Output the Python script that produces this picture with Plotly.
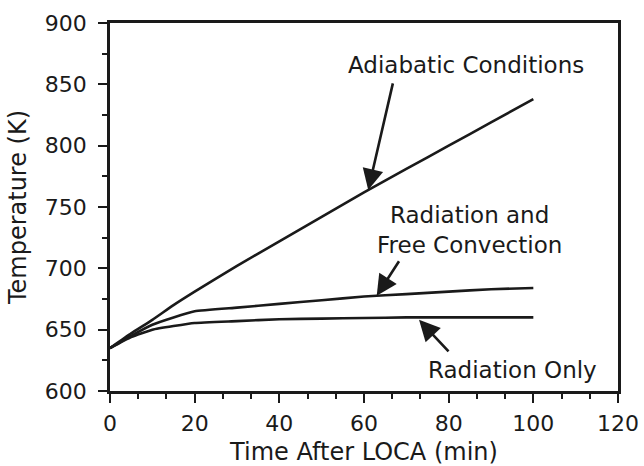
import numpy as np
import plotly.graph_objects as go

# Time after the loss-of-coolant accident (min)
time_min = [0, 5, 10, 15, 20, 30, 40, 50, 60, 70, 80, 90, 100]

# Temperature histories (K)
adiabatic = [635, 647, 658, 670, 681, 702, 722, 742, 762, 781, 800, 819, 838]
radiation_convection = [635, 645, 654, 660, 665, 668, 671, 674, 677, 679, 681, 683, 684]
radiation_only = [635, 644, 650, 653, 655.5, 657, 658.5, 659, 659.5, 660, 660, 660, 660]

x_ticks = [0, 20, 40, 60, 80, 100, 120]
y_ticks = [600, 650, 700, 750, 800, 850, 900]

INK = "#1a1a1a"
FONT = "DejaVu Sans"

fig = go.Figure()
for series in (adiabatic, radiation_convection, radiation_only):
    fig.add_trace(go.Scatter(
        x=time_min, y=series, mode="lines",
        line=dict(color=INK, width=2.6, shape="spline", smoothing=0.4),
        showlegend=False, hoverinfo="skip",
    ))


def on_curve(series, t):
    return float(np.interp(t, time_min, series))


# Callout labels
labels = [
    ("Adiabatic Conditions", 84, 866),
    ("Radiation and<br>Free Convection", 85, 731),
    ("Radiation Only", 95, 617),
]
for text, tx, ty in labels:
    fig.add_annotation(x=tx, y=ty, xref="x", yref="y", text=text,
                       showarrow=False, font=dict(family=FONT, size=23, color=INK),
                       align="center")

# Arrows from each label to its curve: (series, head time, head offset, tail t, tail T)
arrows = [
    (adiabatic, 61, 0, 66.9, 852),
    (radiation_convection, 63, 0, 68.5, 707),
    (radiation_only, 73, -2, 80.3, 631),
]
for series, th, dy, tt, tT in arrows:
    fig.add_annotation(x=th, y=on_curve(series, th) + dy, xref="x", yref="y",
                       ax=tt, ay=tT, axref="x", ayref="y", text="",
                       showarrow=True, arrowhead=2, arrowsize=1.6,
                       arrowwidth=2.6, arrowcolor=INK)

axis_common = dict(
    showgrid=False, zeroline=False, showline=True, linecolor=INK, linewidth=2.6,
    mirror=True, ticks="outside", tickcolor=INK, tickwidth=2, ticklen=9,
    tickfont=dict(family=FONT, size=22, color=INK), automargin=False,
)

fig.update_xaxes(
    range=[0, 120], tickvals=x_ticks, ticklabelstandoff=2,
    minor=dict(dtick=20 / 3, tick0=0, ticks="outside", ticklen=5, tickwidth=2, tickcolor=INK),
    title=dict(text="Time After LOCA (min)", font=dict(family=FONT, size=24, color=INK), standoff=20),
    **axis_common,
)
fig.update_yaxes(
    range=[600, 900], tickvals=y_ticks, ticklabelstandoff=7,
    minor=dict(dtick=25, tick0=600, ticks="outside", ticklen=5, tickwidth=2, tickcolor=INK),
    title=dict(text="Temperature (K)", font=dict(family=FONT, size=24, color=INK), standoff=12),
    **axis_common,
)

fig.update_layout(
    width=644, height=466,
    margin=dict(l=110, r=26, t=23, b=75),
    paper_bgcolor="white", plot_bgcolor="white",
)

fig.write_html("out.html")
